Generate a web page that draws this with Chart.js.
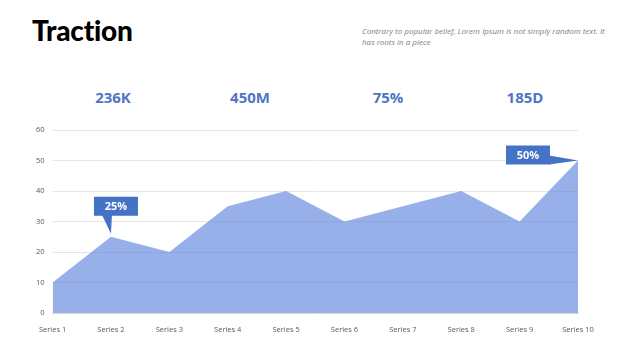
<!DOCTYPE html>
<html>
<head>
<meta charset="utf-8">
<script src="https://cdn.jsdelivr.net/npm/chart.js@4"></script>
<style>
  body { margin: 0; width: 640px; height: 360px; background: #fff; position: relative; overflow: hidden; font-family: "Open Sans", sans-serif; }
  #title { position: absolute; left: 32px; top: 13px; font-family: Lato, sans-serif; font-weight: 900; font-size: 28px; color: #000; letter-spacing: -0.2px; }
  #desc { position: absolute; left: 362px; top: 25px; width: 250px; font-style: italic; font-size: 8px; line-height: 11px; color: #808080; }
  .kpi { position: absolute; top: 87px; width: 80px; margin-left: -40px; text-align: center; font-weight: 700; font-size: 15px; color: #4f76c2; }
  #wrap { position: absolute; left: 0; top: 115px; width: 640px; height: 227px; }
</style>
</head>
<body>
<div id="title">Traction</div>
<div id="desc">Contrary to popular belief, Lorem Ipsum is not simply random text. It has roots in a piece</div>
<div id="kpis"></div>
<div id="wrap"><canvas id="chart"></canvas></div>
<script>
// chart data
const categories = ["Series 1", "Series 2", "Series 3", "Series 4", "Series 5", "Series 6", "Series 7", "Series 8", "Series 9", "Series 10"];
const values = [10, 25, 20, 35, 40, 30, 35, 40, 30, 50];
const yTicks = [0, 10, 20, 30, 40, 50, 60];

// headline numbers above the chart
const kpiLabels = ["236K", "450M", "75%", "185D"];
const kpiCenters = [113, 250, 388, 525];

// callout boxes on points
const calloutIndex = [1, 9];
const calloutText = ["25%", "50%"];

const kpiBox = document.getElementById("kpis");
for (let i = 0; i < kpiLabels.length; i++) {
  const d = document.createElement("div");
  d.className = "kpi";
  d.style.left = kpiCenters[i] + "px";
  d.textContent = kpiLabels[i];
  kpiBox.appendChild(d);
}

// draws the little speech-bubble labels
const calloutPlugin = {
  id: "callouts",
  afterDatasetsDraw(chart) {
    const ctx = chart.ctx;
    const x = chart.scales.x;
    const y = chart.scales.y;
    ctx.save();
    for (let i = 0; i < calloutIndex.length; i++) {
      const idx = calloutIndex[i];
      const px = x.getPixelForValue(idx);
      const py = y.getPixelForValue(values[idx]);
      const w = 44, h = 19;
      let bx, by;
      ctx.fillStyle = "#4472c4";
      ctx.beginPath();
      if (i === 0) {
        // pointer goes down to the point
        bx = px - 17; by = py - 40;
        ctx.moveTo(px - 9, by + h - 1);
        ctx.lineTo(px + 1, by + h - 1);
        ctx.lineTo(px, py - 3);
      } else {
        // pointer goes right to the point
        bx = px - 72; by = py - 15;
        ctx.moveTo(bx + w - 1, by + 10);
        ctx.lineTo(bx + w - 1, by + h);
        ctx.lineTo(px, py);
      }
      ctx.closePath();
      ctx.fill();
      ctx.fillRect(bx, by, w, h);
      ctx.fillStyle = "#fff";
      ctx.font = "bold 11px 'Open Sans'";
      ctx.textAlign = "center";
      ctx.textBaseline = "middle";
      ctx.fillText(calloutText[i], bx + w / 2, by + h / 2 + 1);
    }
    ctx.restore();
  }
};

new Chart(document.getElementById("chart"), {
  type: "line",
  data: {
    labels: categories,
    datasets: [{
      data: values,
      fill: "origin",
      backgroundColor: "rgba(90, 130, 220, 0.63)",
      borderWidth: 0,
      pointRadius: 0,
      tension: 0
    }]
  },
  options: {
    responsive: true,
    maintainAspectRatio: false,
    animation: false,
    layout: { padding: { left: 28, right: 62, top: 15, bottom: 4 } },
    plugins: { legend: { display: false }, tooltip: { enabled: false } },
    scales: {
      x: {
        offset: false,
        grid: { display: false },
        border: { color: "#d9d9d9" },
        ticks: { color: "#595959", font: { family: "Open Sans", size: 7.5 }, maxRotation: 0, padding: 4 }
      },
      y: {
        min: 0,
        max: 60,
        afterBuildTicks(axis) { axis.ticks = yTicks.map(v => ({ value: v })); },
        grid: { color: "#e6e6e6", drawTicks: false },
        border: { display: false },
        ticks: { color: "#595959", font: { family: "Open Sans", size: 7.5 }, padding: 8 }
      }
    }
  },
  plugins: [calloutPlugin]
});
</script>
</body>
</html>
